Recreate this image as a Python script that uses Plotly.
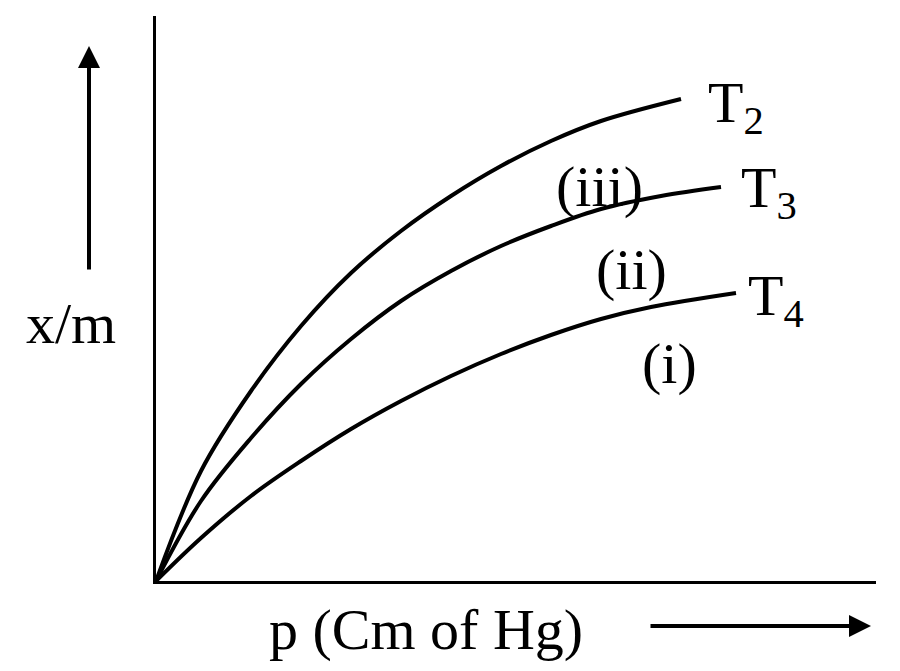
import plotly.graph_objects as go

# curve points, read in picture pixels (origin at 155,580)
t2_px = [155, 200, 250, 300, 350, 400, 450, 500, 550, 600, 680]
t2_py = [580, 470, 390, 325, 272, 230, 195, 165, 140, 120, 98]
t3_px = [155, 200, 250, 300, 350, 400, 450, 500, 550, 600, 660, 720]
t3_py = [580, 500, 437, 383, 338, 300, 270, 245, 225, 208, 195, 186]
t4_px = [155, 200, 250, 300, 350, 400, 450, 500, 550, 600, 650, 735]
t4_py = [580, 537, 495, 460, 428, 400, 375, 353, 334, 318, 306, 292]

def to_xy(px, py):
    return [p - 155 for p in px], [580 - p for p in py]

def paper(px, py):
    return (px - 155) / 720, (580 - py) / 565

fig = go.Figure()
for px, py in [(t2_px, t2_py), (t3_px, t3_py), (t4_px, t4_py)]:
    x, y = to_xy(px, py)
    fig.add_trace(go.Scatter(x=x, y=y, mode='lines', line=dict(color='black', width=4, shape='spline'),
                             showlegend=False, hoverinfo='skip'))

font = dict(family='Liberation Serif', size=58, color='black')
labels = [(735, 105, 'T<sub>2</sub>'), (598, 185, '(iii)'), (768, 190, 'T<sub>3</sub>'),
          (630, 268, '(ii)'), (775, 298, 'T<sub>4</sub>'), (668, 362, '(i)'),
          (70, 322, 'x/m'), (425, 628, 'p (Cm of Hg)')]
for px, py, t in labels:
    x, y = paper(px, py)
    fig.add_annotation(x=x, y=y, xref='paper', yref='paper', text=t, showarrow=False, font=font,
                       xanchor='center', yanchor='middle')

# arrows
for (x0, y0), (x1, y1) in [((88, 270), (88, 45)), ((648, 625), (870, 625))]:
    x, y = paper(x1, y1)
    fig.add_annotation(x=x, y=y, ax=x0 - x1, ay=y0 - y1, xref='paper', yref='paper',
                       axref='pixel', ayref='pixel', standoff=0,
                       showarrow=True, arrowhead=2, arrowsize=1.1, arrowwidth=4, arrowcolor='black', text='')

fig.update_xaxes(range=[0, 720], showgrid=False, zeroline=False, showticklabels=False,
                 showline=True, linecolor='black', linewidth=3)
fig.update_yaxes(range=[0, 565], showgrid=False, zeroline=False, showticklabels=False,
                 showline=True, linecolor='black', linewidth=3)
fig.update_layout(width=900, height=671, margin=dict(l=148, r=32, t=8, b=98),
                  plot_bgcolor='white', paper_bgcolor='white')
fig.write_html('out.html')
